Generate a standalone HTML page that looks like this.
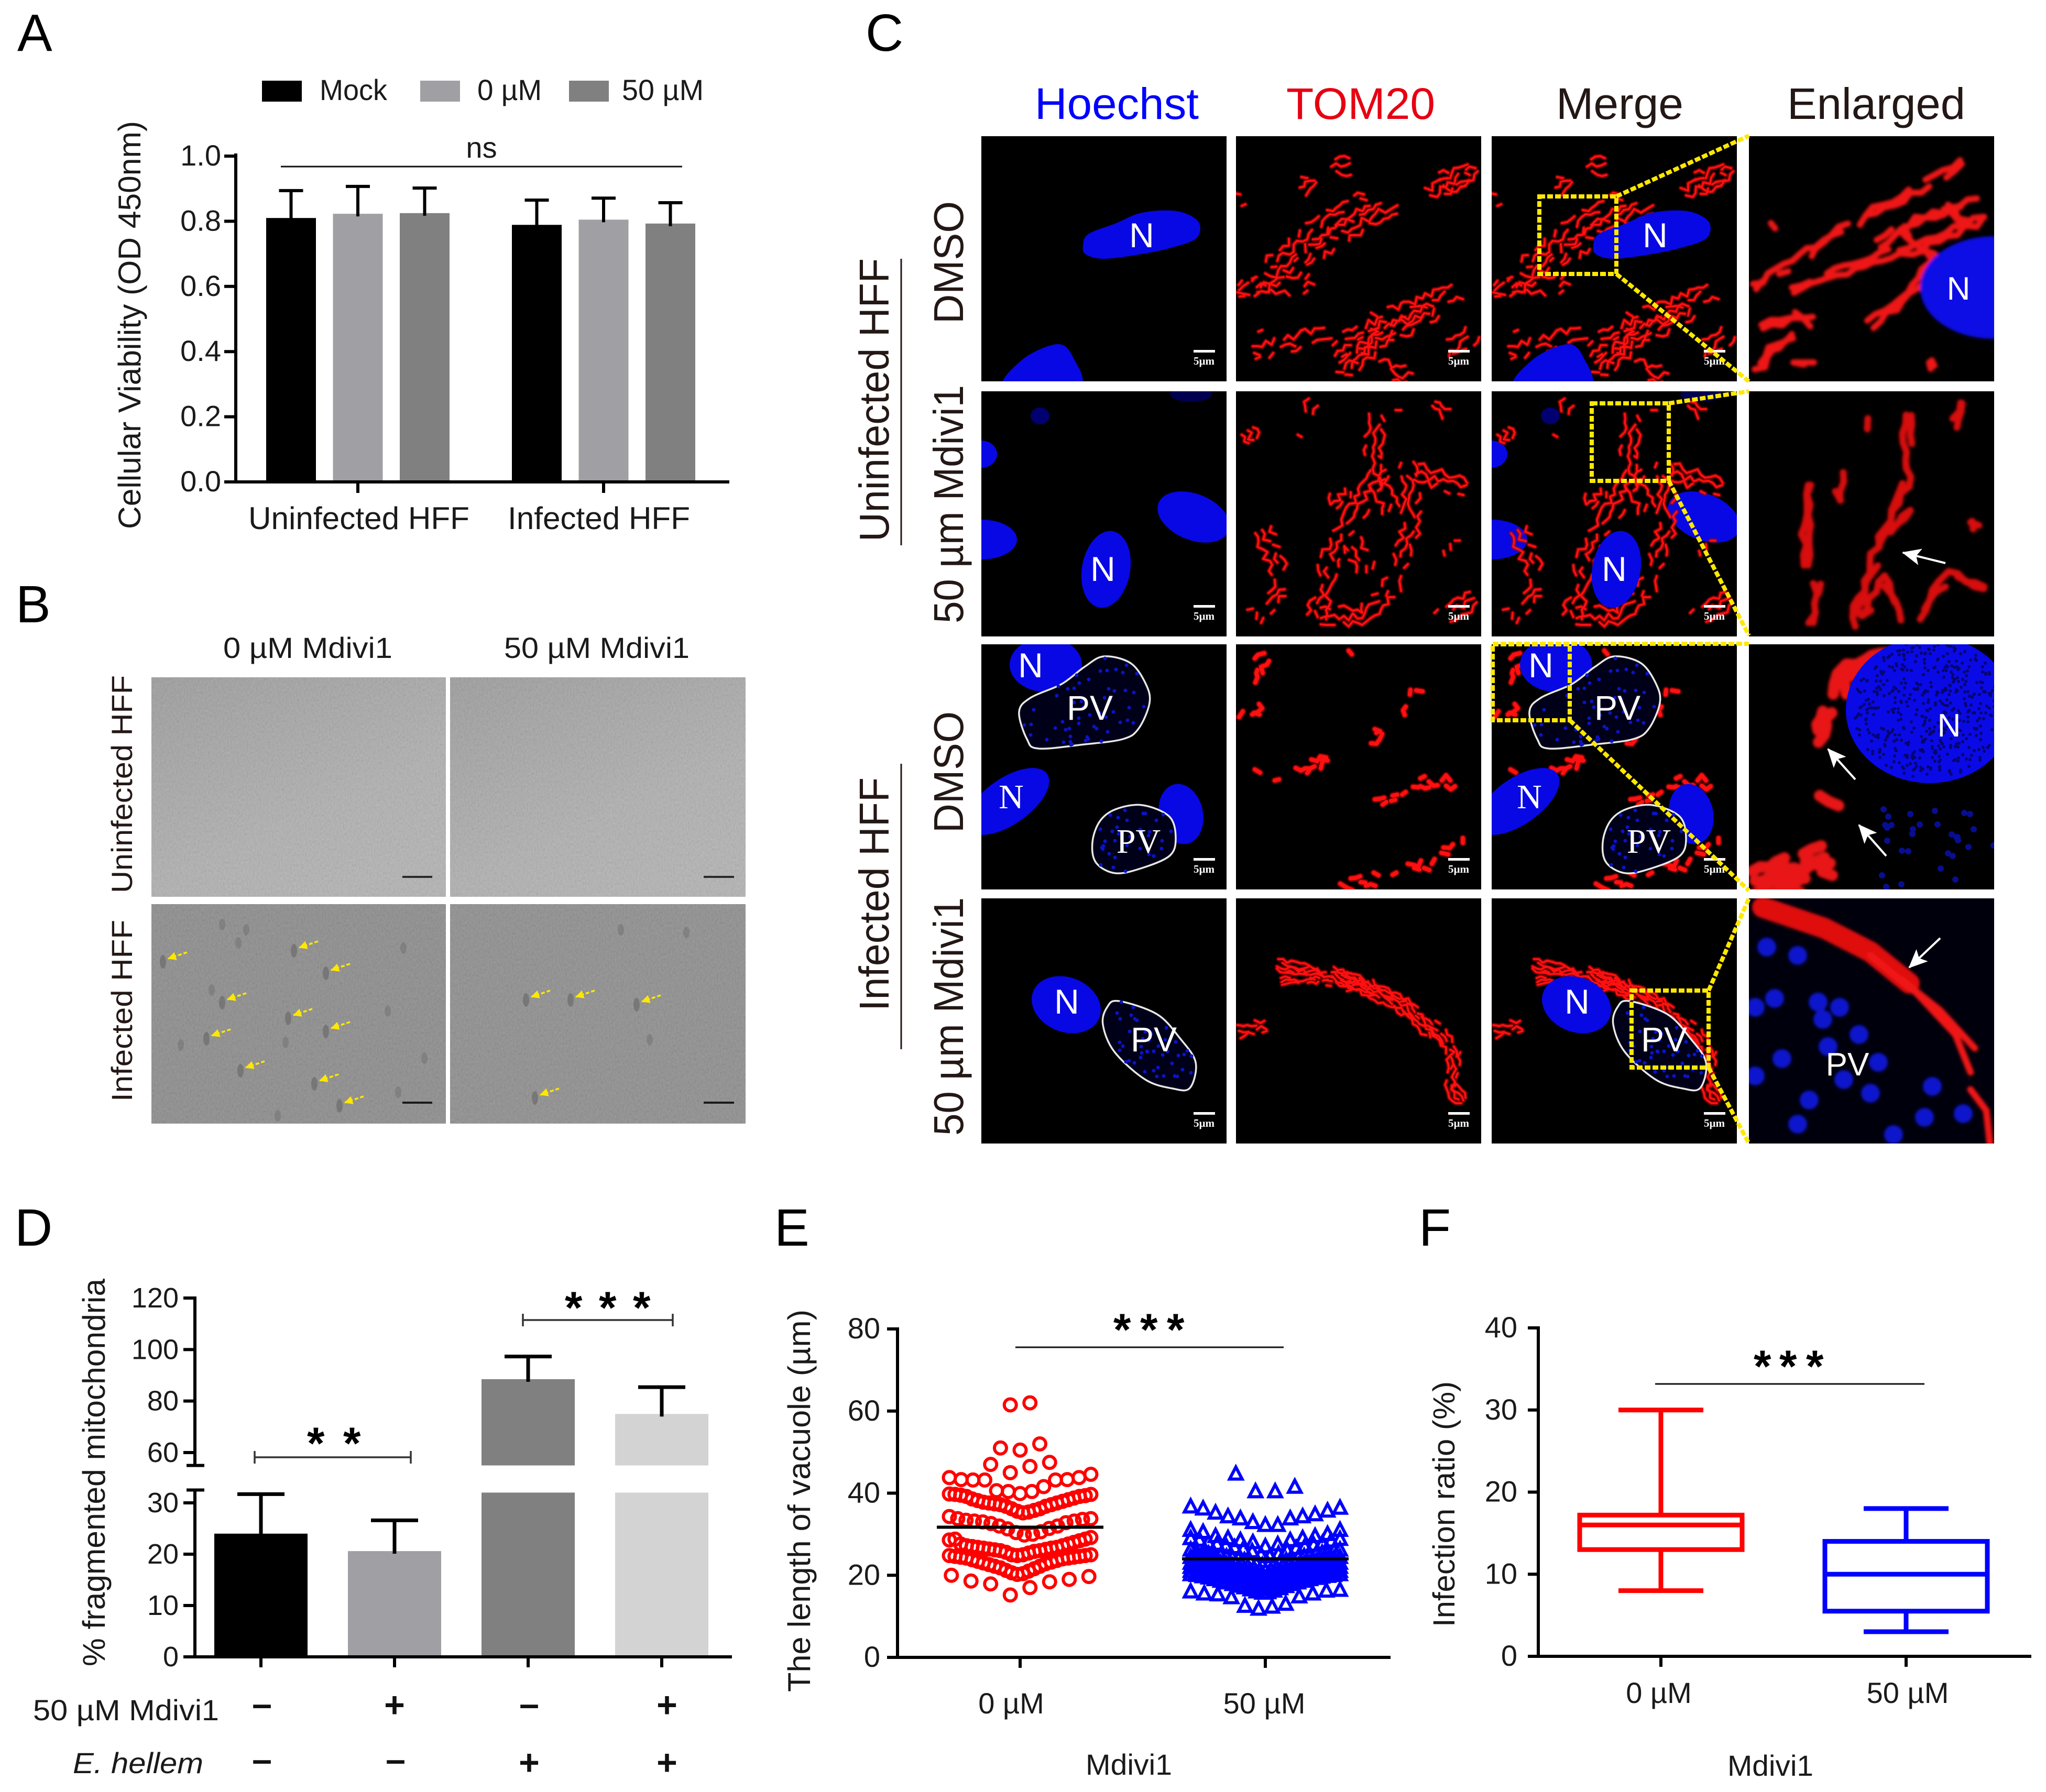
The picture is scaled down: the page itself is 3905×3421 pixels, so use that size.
<!DOCTYPE html>
<html lang="en">
<head>
<meta charset="utf-8">
<title>Mdivi1 multi-panel figure</title>
<style>
html,body{margin:0;padding:0;background:#fff}
svg#fig{display:block}
text{font-family:"Liberation Sans",Arial,sans-serif;fill:#111}
.letter{font-size:100px;fill:#000}
.lab{font-size:56px;fill:#1a1a1a}
.brown{font-size:80px;fill:#231815}
.head{font-size:84px}
.inpanel{font-size:56px;fill:#fff}
.serif{font-family:"Liberation Serif",serif}
.rb{fill:none;stroke:#b00000;stroke-width:9;opacity:.6;stroke-linecap:round;stroke-linejoin:round}
.rf{fill:none;stroke:#ff1010;stroke-width:4;stroke-linecap:round;stroke-linejoin:round}
.nuc{fill:#0808e4}
.pv{fill:#000018;stroke:#e8e8e8;stroke-width:3.5}
.dots{fill:none;stroke:#0a14c8;stroke-width:7;stroke-linecap:round}
.yb{fill:none;stroke:#ffe800;stroke-width:8;stroke-dasharray:11 4}
.wa{stroke:#fff;stroke-width:4;marker-end:url(#whead)}
.sbt{font-family:"Liberation Serif",serif;font-size:21px;font-weight:bold;fill:#fff;text-anchor:middle}
.stars{font-size:86px;font-weight:bold;fill:#000}
</style>
</head>
<body>
<svg id="fig" xmlns="http://www.w3.org/2000/svg" width="3905" height="3421" viewBox="0 0 3905 3421">
<defs>
  <linearGradient id="bfTop" x1="0" y1="0" x2=".6" y2="1"><stop offset="0" stop-color="#9a9a9a"/><stop offset=".7" stop-color="#adadad"/><stop offset="1" stop-color="#b0b0b0"/></linearGradient>
  <filter id="grain" x="0" y="0" width="1" height="1"><feTurbulence type="fractalNoise" baseFrequency=".35 .2" numOctaves="2" seed="4"/><feColorMatrix values="1.2 0 0 0 0 1.2 0 0 0 0 1.2 0 0 0 0 0 0 0 0 .12"/></filter>
  <filter id="blur2"><feGaussianBlur stdDeviation="3"/></filter>
  <marker id="whead" markerUnits="userSpaceOnUse" markerWidth="36" markerHeight="32" refX="34" refY="16" orient="auto"><polygon points="0,0 36,16 0,32 8,16" fill="#fff"/></marker>
  <marker id="yhead" markerUnits="userSpaceOnUse" markerWidth="16" markerHeight="16" refX="15" refY="8" orient="auto"><polygon points="0,0 16,8 0,16" fill="#ffe800"/></marker>

  <g id="r1-blue">
    <path id="n1a" class="nuc"/>
    <path id="n1b" class="nuc"/>
  </g>
  <g id="r1-red"><path id="m1b" class="rb"/><path id="m1f" class="rf"/></g>

  <g id="r2-blue">
    <ellipse cx="0" cy="120" rx="30" ry="26" class="nuc"/>
    <ellipse cx="0" cy="283" rx="68" ry="38" class="nuc"/>
    <ellipse cx="238" cy="340" rx="46" ry="74" transform="rotate(10 238 340)" class="nuc"/>
    <ellipse cx="405" cy="240" rx="72" ry="44" transform="rotate(22 405 240)" class="nuc"/>
    <ellipse cx="112" cy="47" rx="18" ry="16" fill="#000070"/>
    <ellipse cx="400" cy="6" rx="40" ry="14" fill="#000050"/>
  </g>
  <g id="r2-red"><path id="m2b" class="rb"/><path id="m2f" class="rf"/></g>

  <g id="r3-blue">
    <ellipse cx="123" cy="39" rx="69" ry="52" class="nuc"/>
    <ellipse cx="50" cy="300" rx="92" ry="44" transform="rotate(-35 50 300)" class="nuc"/>
    <ellipse cx="381" cy="324" rx="42" ry="58" transform="rotate(-12 381 324)" class="nuc"/>
    <path id="pv3a" class="pv"/>
    <path id="pv3b" class="pv"/>
    <path id="dots3" class="dots"/>
  </g>
  <g id="r3-red"><path id="m3b" class="rb" style="stroke-width:13"/><path id="m3f" class="rf" style="stroke-width:8"/></g>

  <g id="r4-blue">
    <ellipse cx="162" cy="203" rx="68" ry="52" transform="rotate(22 162 203)" class="nuc"/>
    <path id="pv4" class="pv"/>
    <path id="dots4" class="dots"/>
  </g>
  <g id="r4-red"><path id="m4b" class="rb"/><path id="m4f" class="rf"/></g>

  <g id="sb1"><rect x="405" y="408" width="41" height="5" fill="#fff"/><text class="sbt" x="425" y="436">5µm</text></g>
</defs>

<rect width="3905" height="3421" fill="#fff"/>

<!-- panel letters -->
<text class="letter" x="33" y="97">A</text>
<text class="letter" x="30" y="1188">B</text>
<text class="letter" x="1652" y="97">C</text>
<text class="letter" x="28" y="2378">D</text>
<text class="letter" x="1478" y="2378">E</text>
<text class="letter" x="2708" y="2378">F</text>

<!-- PANEL A -->
<g id="chartA">
  <rect x="500" y="154" width="76" height="40" fill="#000"/>
  <text class="lab" x="610" y="191" textLength="129" lengthAdjust="spacingAndGlyphs">Mock</text>
  <rect x="802" y="154" width="76" height="40" fill="#a0a0a4"/>
  <text class="lab" x="911" y="191" textLength="123" lengthAdjust="spacingAndGlyphs">0 µM</text>
  <rect x="1086" y="154" width="76" height="40" fill="#808080"/>
  <text class="lab" x="1187" y="191" textLength="156" lengthAdjust="spacingAndGlyphs">50 µM</text>
  <text class="lab" style="font-size:60px" transform="translate(268,1010) rotate(-90)" textLength="779" lengthAdjust="spacingAndGlyphs">Cellular Viability (OD 450nm)</text>
  <text class="lab" x="919" y="301" text-anchor="middle">ns</text>
  <line x1="536" x2="1302" y1="318" y2="318" stroke="#111" stroke-width="3"/>
  <text class="lab" style="font-size:60px" x="474" y="1010" textLength="422" lengthAdjust="spacingAndGlyphs">Uninfected HFF</text>
  <text class="lab" style="font-size:60px" x="969" y="1010" textLength="348" lengthAdjust="spacingAndGlyphs">Infected HFF</text>
</g>

<!-- PANEL B -->
<g>
  <text class="lab" x="426" y="1256" textLength="323" lengthAdjust="spacingAndGlyphs">0 µM Mdivi1</text>
  <text class="lab" x="962" y="1256" textLength="354" lengthAdjust="spacingAndGlyphs">50 µM Mdivi1</text>
  <text class="lab" style="fill:#231815" transform="translate(252,1705) rotate(-90)" textLength="416" lengthAdjust="spacingAndGlyphs">Uninfected HFF</text>
  <text class="lab" style="fill:#231815" transform="translate(252,2103) rotate(-90)" textLength="347" lengthAdjust="spacingAndGlyphs">Infected HFF</text>
  <rect x="289" y="1293" width="562" height="419" fill="url(#bfTop)"/>
  <rect x="859" y="1293" width="564" height="419" fill="url(#bfTop)"/>
  <rect x="289" y="1726" width="562" height="419" fill="#8a8a8a"/>
  <rect x="859" y="1726" width="564" height="419" fill="#8c8c8c"/>
  <rect x="289" y="1293" width="562" height="419" filter="url(#grain)"/>
  <rect x="859" y="1293" width="564" height="419" filter="url(#grain)"/>
  <rect x="289" y="1726" width="562" height="419" filter="url(#grain)"/>
  <rect x="859" y="1726" width="564" height="419" filter="url(#grain)"/>
  <g id="bfArrows"></g>
  <rect x="768" y="1672" width="57" height="4" fill="#2a2a2a"/>
  <rect x="1343" y="1672" width="58" height="4" fill="#2a2a2a"/>
  <rect x="768" y="2103" width="57" height="4" fill="#1a1a1a"/>
  <rect x="1343" y="2103" width="58" height="4" fill="#1a1a1a"/>
</g>

<!-- PANEL C -->
<g>
  <text class="head" style="fill:#0000ff" x="1975" y="227" textLength="313" lengthAdjust="spacingAndGlyphs">Hoechst</text>
  <text class="head" style="fill:#e60012" x="2455" y="227" textLength="284" lengthAdjust="spacingAndGlyphs">TOM20</text>
  <text class="head" style="fill:#231815" x="2970" y="227" textLength="243" lengthAdjust="spacingAndGlyphs">Merge</text>
  <text class="head" style="fill:#231815" x="3411" y="227" textLength="340" lengthAdjust="spacingAndGlyphs">Enlarged</text>

  <text class="brown" transform="translate(1696,1034) rotate(-90)" textLength="541" lengthAdjust="spacingAndGlyphs">Uninfected HFF</text>
  <line x1="1720" x2="1720" y1="494" y2="1041" stroke="#231815" stroke-width="3"/>
  <text class="brown" transform="translate(1838,618) rotate(-90)" textLength="234" lengthAdjust="spacingAndGlyphs">DMSO</text>
  <text class="brown" transform="translate(1838,1190) rotate(-90)" textLength="455" lengthAdjust="spacingAndGlyphs">50 µm Mdivi1</text>
  <text class="brown" transform="translate(1696,1930) rotate(-90)" textLength="446" lengthAdjust="spacingAndGlyphs">Infected HFF</text>
  <line x1="1720" x2="1720" y1="1458" y2="2003" stroke="#231815" stroke-width="3"/>
  <text class="brown" transform="translate(1838,1590) rotate(-90)" textLength="232" lengthAdjust="spacingAndGlyphs">DMSO</text>
  <text class="brown" transform="translate(1838,2168) rotate(-90)" textLength="455" lengthAdjust="spacingAndGlyphs">50 µm Mdivi1</text>

  <!-- row 1 -->
  <svg x="1873" y="260" width="468" height="468"><rect width="468" height="468" fill="#000"/><use href="#r1-blue"/><text class="inpanel" x="306" y="212" text-anchor="middle" style="font-size:66px">N</text><use href="#sb1"/></svg>
  <svg x="2359" y="260" width="468" height="468"><rect width="468" height="468" fill="#000"/><use href="#r1-red"/><use href="#sb1"/></svg>
  <svg x="2847" y="260" width="468" height="468"><rect width="468" height="468" fill="#000"/><use href="#r1-red"/><use href="#r1-blue"/><text class="inpanel" x="312" y="212" text-anchor="middle" style="font-size:66px">N</text><use href="#sb1"/></svg>
  <svg x="3338" y="260" width="468" height="468"><rect width="468" height="468" fill="#000"/><g filter="url(#blur2)"><path id="e1" fill="none" stroke="#ee1212" stroke-width="12" stroke-linecap="round" stroke-linejoin="round"/><ellipse cx="467" cy="289" rx="140" ry="98" fill="#0a0ae6"/></g><text class="inpanel" x="400" y="312" text-anchor="middle" style="font-size:62px">N</text></svg>

  <!-- row 2 -->
  <svg x="1873" y="747" width="468" height="468"><rect width="468" height="468" fill="#000"/><use href="#r2-blue"/><text class="inpanel" x="232" y="362" text-anchor="middle" style="font-size:66px">N</text><use href="#sb1"/></svg>
  <svg x="2359" y="747" width="468" height="468"><rect width="468" height="468" fill="#000"/><use href="#r2-red"/><use href="#sb1"/></svg>
  <svg x="2847" y="747" width="468" height="468"><rect width="468" height="468" fill="#000"/><use href="#r2-blue"/><use href="#r2-red"/><ellipse cx="238" cy="340" rx="46" ry="74" transform="rotate(10 238 340)" class="nuc"/><text class="inpanel" x="234" y="362" text-anchor="middle" style="font-size:66px">N</text><use href="#sb1"/></svg>
  <svg x="3338" y="747" width="468" height="468"><rect width="468" height="468" fill="#000"/><g filter="url(#blur2)"><path id="e2" fill="none" stroke="#d81010" stroke-width="13" stroke-linecap="round" stroke-linejoin="round"/></g><line x1="375" y1="328" x2="294" y2="308" class="wa"/></svg>

  <!-- row 3 -->
  <svg x="1873" y="1230" width="468" height="468"><rect width="468" height="468" fill="#000"/><use href="#r3-blue"/><text class="inpanel" x="94" y="63" text-anchor="middle" style="font-size:66px">N</text><text class="inpanel" x="207" y="144" text-anchor="middle" style="font-size:66px">PV</text><text class="inpanel serif" x="57" y="313" text-anchor="middle" style="font-size:66px">N</text><text class="inpanel serif" x="300" y="398" text-anchor="middle" style="font-size:66px">PV</text><use href="#sb1"/></svg>
  <svg x="2359" y="1230" width="468" height="468"><rect width="468" height="468" fill="#000"/><use href="#r3-red"/><use href="#sb1"/></svg>
  <svg x="2847" y="1230" width="468" height="468"><rect width="468" height="468" fill="#000"/><use href="#r3-red"/><use href="#r3-blue"/><text class="inpanel" x="94" y="63" text-anchor="middle" style="font-size:66px">N</text><text class="inpanel" x="240" y="144" text-anchor="middle" style="font-size:66px">PV</text><text class="inpanel serif" x="72" y="313" text-anchor="middle" style="font-size:66px">N</text><text class="inpanel serif" x="300" y="398" text-anchor="middle" style="font-size:66px">PV</text><use href="#sb1"/></svg>
  <svg x="3338" y="1230" width="468" height="468"><rect width="468" height="468" fill="#000"/><path id="e3dots" fill="none" stroke="#080e90" stroke-width="12" stroke-linecap="round"/><g filter="url(#blur2)"><path id="e3" fill="none" stroke="#e81212" stroke-width="22" stroke-linecap="round" stroke-linejoin="round"/></g><ellipse cx="345" cy="125" rx="160" ry="140" fill="#0a0ae6"/><path id="e3spk" fill="none" stroke="#05056e" stroke-width="6" stroke-linecap="round"/><text class="inpanel" x="382" y="176" text-anchor="middle" style="font-size:62px">N</text><line x1="203" y1="258" x2="151" y2="200" class="wa"/><line x1="262" y1="404" x2="210" y2="345" class="wa"/></svg>

  <!-- row 4 -->
  <svg x="1873" y="1715" width="468" height="468"><rect width="468" height="468" fill="#000"/><use href="#r4-blue"/><text class="inpanel" x="163" y="220" text-anchor="middle" style="font-size:66px">N</text><text class="inpanel" x="329" y="292" text-anchor="middle" style="font-size:66px">PV</text><use href="#sb1"/></svg>
  <svg x="2359" y="1715" width="468" height="468"><rect width="468" height="468" fill="#000"/><use href="#r4-red"/><use href="#sb1"/></svg>
  <svg x="2847" y="1715" width="468" height="468"><rect width="468" height="468" fill="#000"/><use href="#r4-red"/><use href="#r4-blue"/><text class="inpanel" x="163" y="220" text-anchor="middle" style="font-size:66px">N</text><text class="inpanel" x="329" y="292" text-anchor="middle" style="font-size:66px">PV</text><use href="#sb1"/></svg>
  <svg x="3338" y="1715" width="468" height="468"><rect width="468" height="468" fill="#00000c"/><g filter="url(#blur2)"><path id="e4dots" fill="none" stroke="#0a14cc" stroke-linecap="round" stroke-width="36"/><path id="e4a" fill="none" stroke="#e01010" stroke-width="40" stroke-linecap="round" stroke-linejoin="round"/><path id="e4b" fill="none" stroke="#f01414" stroke-width="13" stroke-linecap="round" stroke-linejoin="round"/></g><text class="inpanel" x="188" y="338" text-anchor="middle" style="font-size:62px">PV</text><line x1="365" y1="76" x2="306" y2="132" class="wa"/></svg>

  <!-- zoom boxes -->
  <rect x="2938" y="375" width="147" height="148" class="yb"/>
  <path d="M3085 375L3338 259M3085 523L3338 728" class="yb"/>
  <rect x="3038" y="770" width="147" height="148" class="yb"/>
  <path d="M3185 770L3338 747M3185 918L3338 1213" class="yb"/>
  <rect x="2849" y="1230" width="147" height="145" class="yb"/>
  <path d="M2849 1229L3338 1229M2996 1375L3338 1700" class="yb"/>
  <rect x="3114" y="1891" width="147" height="147" class="yb"/>
  <path d="M3261 1891L3338 1715M3261 2038L3338 2183" class="yb"/>
</g>

<!-- PANEL D -->
<g id="chartD">
  <text class="lab" style="font-size:60px" transform="translate(200,3181) rotate(-90)" textLength="740" lengthAdjust="spacingAndGlyphs">% fragmented mitochondria</text>
  <path d="M486 2770V2794M486 2782H784M784 2770V2794" fill="none" stroke="#333" stroke-width="3.5"/>
  <path d="M998 2508V2532M998 2520H1284M1284 2508V2532" fill="none" stroke="#333" stroke-width="3.5"/>
  <text x="586 655" y="2785" class="stars">**</text>
  <text x="1078 1143 1208" y="2526" class="stars">***</text>
  <text class="lab" x="63" y="3284" textLength="355" lengthAdjust="spacingAndGlyphs">50 µM Mdivi1</text>
  <text class="lab" style="font-style:italic" x="139" y="3385" textLength="249" lengthAdjust="spacingAndGlyphs">E. hellem</text>
</g>

<!-- PANEL E -->
<g id="chartE">
  <text class="lab" style="font-size:60px" transform="translate(1546,3230) rotate(-90)" textLength="730" lengthAdjust="spacingAndGlyphs">The length of vacuole (µm)</text>
  <text x="2125 2176 2227" y="2568" class="stars">***</text>
  <line x1="1938" x2="2450" y1="2572" y2="2572" stroke="#111" stroke-width="3"/>
  <text class="lab" x="2072" y="3388" textLength="165" lengthAdjust="spacingAndGlyphs">Mdivi1</text>
</g>

<!-- PANEL F -->
<g id="chartF">
  <text class="lab" style="font-size:58px" transform="translate(2776,3106) rotate(-90)" textLength="469" lengthAdjust="spacingAndGlyphs">Infection ratio (%)</text>
  <text x="3347 3396 3447" y="2638" class="stars">***</text>
  <line x1="3159" x2="3673" y1="2642" y2="2642" stroke="#111" stroke-width="3"/>
  <text class="lab" x="3297" y="3390" textLength="164" lengthAdjust="spacingAndGlyphs">Mdivi1</text>
</g>

<script>
/* ===== chart data ===== */
// Panel A
const aGroups = ['Uninfected HFF', 'Infected HFF'];
const aSeriesNames = ['mock', '0um', '50um'];
const aMock = [0.81, 0.789];
const a0uM = [0.823, 0.805];
const a50uM = [0.825, 0.793];
const aErrMock = [0.894, 0.865];
const aErr0uM = [0.907, 0.871];
const aErr50uM = [0.902, 0.857];
const aTicks = ['0.0', '0.2', '0.4', '0.6', '0.8', '1.0'];
// Panel D
const dCats = ['no-drug-uninfected', 'drug-uninfected', 'no-drug-infected', 'drug-infected'];
const dValues = [24, 20.6, 88.5, 75];
const dErrors = [31.7, 26.6, 97.3, 85.4];
const dLowerTicks = ['0', '10', '20', '30'];
const dUpperTicks = ['60', '80', '100', '120'];
const dRowMdivi = ['–', '+', '–', '+'];
const dRowHellem = ['–', '–', '+', '+'];
// Panel E
const eCats = ['0 µM', '50 µM'];
const eTicks = ['0', '20', '40', '60', '80'];
const eMedians = [31.7, 24];
const eCircleRows = [
  [61.5, 62],
  [51, 50.5, 52],
  [47, 45, 46.5, 47.5],
  [43.8, 43.3, 43.2, 43.2, 40.6, 40.4, 39.9, 40.4, 41.6, 43.2, 43.3, 43.8, 44.6],
  [39.8, 39.7, 39.5, 39.2, 38.6, 38.2, 37.8, 37.6, 37.4, 37.2, 36.8, 36.2, 35.6, 35.2, 35.4, 35.8, 36.2, 36.8, 37.2, 37.6, 38, 38.4, 38.8, 39.2, 39.4, 39.7],
  [34.3, 33.8, 33.4, 33.2, 33, 32.6, 32, 31.3, 30.4, 29.8, 30, 30.6, 31.4, 32, 32.8, 33.2, 33.6, 33.8],
  [28.6, 28.8, 27.6, 27.2, 27, 26.8, 26.6, 26.4, 26.2, 26, 25.6, 25, 24.8, 25, 25.4, 25.8, 26, 26.3, 26.6, 26.8, 27.2, 27.6, 28, 28.4, 28.8, 29.2],
  [24.8, 24.6, 24.4, 24.2, 23.8, 23.4, 23, 22.6, 22.2, 21.8, 21.2, 20.6, 20.2, 20.4, 21, 21.6, 22.2, 22.8, 23.2, 23.6, 24, 24.2, 24.4, 24.6, 24.8, 25],
  [20, 18.6, 17.9, 15.2, 17, 18.4, 19, 19.7]
];
const eTriangleRows = [
  [44.7, 40.4, 40.4, 41.5],
  [36.7, 36.2, 35.2, 34.3, 33.8, 32.9, 32.2, 32.2, 33.8, 34.3, 34.8, 35.7, 36.4],
  [31, 30.5, 29.5, 29, 28.5, 28, 27, 27.5, 28.5, 29, 29.5, 30, 31],
  [29, 28.6, 28, 27.6, 27.2, 26.8, 26.4, 25.8, 25, 24.6, 25.2, 26, 26.6, 27, 27.4, 27.8, 28.4, 28.8],
  [26.2, 25.8, 25.5, 25.2, 25, 24.8, 24.5, 24.2, 24, 23.6, 23.2, 22.8, 22.4, 22.4, 22.8, 23.2, 23.6, 24, 24.3, 24.6, 24.9, 25.2, 25.4, 25.6, 25.9, 26.2],
  [24.4, 24.2, 23.9, 23.7, 23.4, 23, 22.7, 22.3, 21.9, 21.5, 21, 20.6, 20.2, 20.3, 20.8, 21.2, 21.6, 22, 22.4, 22.8, 23.1, 23.4, 23.7, 23.9, 24.1, 24.4],
  [23, 22.7, 22.4, 22.2, 22, 21.6, 21.3, 21, 20.6, 20.2, 19.8, 19.4, 19, 19.2, 19.6, 20, 20.4, 20.8, 21.2, 21.5, 21.8, 22.1, 22.4, 22.6, 22.8, 23],
  [22, 21.8, 21.5, 21.2, 20.9, 20.6, 20.2, 19.8, 19.4, 19, 18.5, 18, 17.6, 17.8, 18.2, 18.8, 19.2, 19.6, 20, 20.4, 20.7, 21, 21.3, 21.5, 21.7, 22],
  [21, 20.8, 20.5, 20.2, 20, 19.8, 19.4, 19, 18.6, 18.2, 17.6, 17, 16.6, 16.8, 17.2, 17.8, 18.4, 18.8, 19.2, 19.5, 19.8, 20, 20.3, 20.5, 20.7, 21],
  [20.2, 20, 19.7, 19.4, 19, 18.6, 18.2, 17.8, 17.4, 17, 16.5, 16, 15.7, 15.8, 16.2, 16.8, 17.3, 17.8, 18.2, 18.6, 19, 19.3, 19.6, 19.8, 20, 20.2],
  [16, 15.5, 15.3, 14.6, 12.5, 11.8, 12.3, 13, 14.8, 15.5, 16.2, 16.4]
];
// Panel F
const fCats = ['0 µM', '50 µM'];
const fTicks = ['0', '10', '20', '30', '40'];
const fWhiskerLow = [8, 3];
const fQ1 = [13, 5.5];
const fMedian = [16, 10];
const fQ3 = [17.2, 14];
const fWhiskerHigh = [30, 18];

/* ===== helpers ===== */
const NS = 'http://www.w3.org/2000/svg';
function mk(parent, tag, attrs, txt) {
  const e = document.createElementNS(NS, tag);
  for (const k in attrs) e.setAttribute(k, attrs[k]);
  if (txt !== undefined) e.textContent = txt;
  parent.appendChild(e);
  return e;
}
const linear = (d0, d1, r0, r1) => v => r0 + (v - d0) * (r1 - r0) / (d1 - d0);
const $ = id => document.getElementById(id);
const AX = {stroke: '#000', 'stroke-width': 6};

/* ===== Panel A ===== */
(function () {
  const g = $('chartA');
  const y = linear(0, 1, 920, 298);
  const groupX = i => 683 + i * 469;
  const barX = (i, s) => groupX(i) + (s - 1) * 127.5;
  const colors = ['#000', '#a0a0a4', '#808080'];
  const vals = [aMock, a0uM, a50uM], errs = [aErrMock, aErr0uM, aErr50uM];
  aGroups.forEach((name, i) => {
    aSeriesNames.forEach((sn, s) => {
      const cx = barX(i, s);
      const bar = mk(g, 'rect', {x: cx - 47.5, y: y(vals[s][i]), width: 95, height: y(0) - y(vals[s][i]), fill: colors[s]});
      
      
      const er = mk(g, 'path', {d: `M${cx} ${y(vals[s][i]) + 5}V${y(errs[s][i])}M${cx - 23} ${y(errs[s][i])}H${cx + 23}`, fill: 'none', stroke: '#000', 'stroke-width': 6});
      
      
    });
    const t = mk(g, 'line', Object.assign({x1: groupX(i), x2: groupX(i), y1: y(0), y2: y(0) + 21}, AX));
    
    
  });
  const yAxis = mk(g, 'line', Object.assign({x1: 450, x2: 450, y1: y(1) - 5, y2: y(0) + 3}, AX));
  
  
  const xAxis = mk(g, 'line', Object.assign({x1: 447, x2: 1392, y1: y(0), y2: y(0)}, AX));
  
  
  aTicks.forEach(tk => {
    const yy = y(parseFloat(tk));
    const t = mk(g, 'line', Object.assign({x1: 428, x2: 450, y1: yy, y2: yy}, AX));
    
    
    const l = mk(g, 'text', {x: 422, y: yy + 18, 'text-anchor': 'end', class: 'lab'}, tk);
    
    
  });
})();

/* ===== Panel D ===== */
(function () {
  const g = $('chartD');
  const yL = linear(0, 30, 3163, 2869);
  const yU = linear(60, 120, 2773, 2478);
  const BREAK_LOW = 32, BREAK_HIGH = 55;
  const yAny = v => v <= BREAK_LOW + 0.5 ? yL(v) : yU(v);
  const xc = i => 498 + i * 255;
  const colors = ['#000', '#a0a0a4', '#808080', '#d3d3d3'];
  dCats.forEach((c, i) => {
    const cx = xc(i), v = dValues[i];
    const low = mk(g, 'rect', {x: cx - 89, y: yL(Math.min(v, BREAK_LOW)), width: 178, height: yL(0) - yL(Math.min(v, BREAK_LOW)), fill: colors[i]});
    
    
    if (v > BREAK_HIGH) {
      const up = mk(g, 'rect', {x: cx - 89, y: yU(v), width: 178, height: yU(BREAK_HIGH) - yU(v), fill: colors[i]});
      
      
    }
    const e = dErrors[i];
    const er = mk(g, 'path', {d: `M${cx} ${yAny(v) + 5}V${yAny(e)}M${cx - 45} ${yAny(e)}H${cx + 45}`, fill: 'none', stroke: '#000', 'stroke-width': 7});
    
    
    const t = mk(g, 'line', Object.assign({x1: cx, x2: cx, y1: yL(0), y2: yL(0) + 20}, AX));
    
    
    const s1 = mk(g, 'text', {x: cx + (dRowMdivi[i] === '+' ? (i === 3 ? 10 : 0) : 2), y: dRowMdivi[i] === '+' ? 3278 : 3276, 'text-anchor': 'middle', style: 'font-size:68px;font-weight:bold;fill:#111'}, dRowMdivi[i]);
    
    
    const s2 = mk(g, 'text', {x: cx + (i === 3 ? 10 : 2), y: dRowHellem[i] === '+' ? 3388 : 3382, 'text-anchor': 'middle', style: 'font-size:68px;font-weight:bold;fill:#111'}, dRowHellem[i]);
    
    
  });
  const axU = mk(g, 'line', Object.assign({x1: 372, x2: 372, y1: yU(120) - 3, y2: yU(BREAK_HIGH)}, AX));
  
  
  const axL = mk(g, 'line', Object.assign({x1: 372, x2: 372, y1: yL(32.5), y2: yL(0) + 3}, AX));
  
  
  const brk1 = mk(g, 'line', Object.assign({x1: 356, x2: 390, y1: yU(BREAK_HIGH), y2: yU(BREAK_HIGH)}, AX));
  
  
  const brk2 = mk(g, 'line', Object.assign({x1: 356, x2: 390, y1: yL(32.5), y2: yL(32.5)}, AX));
  
  
  const xa = mk(g, 'line', Object.assign({x1: 350, x2: 1397, y1: yL(0), y2: yL(0)}, AX));
  
  
  const ticks = (arr, sc) => arr.forEach(tk => {
    const yy = sc(parseFloat(tk));
    const t = mk(g, 'line', Object.assign({x1: 350, x2: 372, y1: yy, y2: yy}, AX));
    
    
    const l = mk(g, 'text', {x: 341, y: yy + 18, 'text-anchor': 'end', class: 'lab', style: 'font-size:54px'}, tk);
    
    
  });
  ticks(dLowerTicks, yL);
  ticks(dUpperTicks, yU);
})();

/* ===== Panel E ===== */
(function () {
  const g = $('chartE');
  const y = linear(0, 80, 3164, 2537);
  const xc = i => 1947 + i * 468;
  const swarmX = (c, j, n, W) => {
    const step = Math.min(37.5, n > 1 ? W / (n - 1) : 0);
    return xc(c) + (j - (n - 1) / 2) * step;
  };
  eCircleRows.forEach(row => row.forEach((v, j) => {
    const c = mk(g, 'circle', {cx: swarmX(0, j, row.length, 270), cy: y(v), r: 11.5, fill: 'none', stroke: '#ff0000', 'stroke-width': 6});
    
    
  }));
  eTriangleRows.forEach(row => row.forEach((v, j) => {
    const cx = swarmX(1, j, row.length, 285), cy = y(v);
    const t = mk(g, 'path', {d: `M${cx} ${cy - 13}L${cx + 12} ${cy + 10}H${cx - 12}Z`, fill: 'none', stroke: '#0000ff', 'stroke-width': 6});
    
    
  }));
  eMedians.forEach((m, i) => {
    const l = mk(g, 'line', {x1: xc(i) - 159, x2: xc(i) + 159, y1: y(m), y2: y(m), stroke: '#000', 'stroke-width': 6});
    
    
  });
  const ya = mk(g, 'line', Object.assign({x1: 1713, x2: 1713, y1: y(80) - 3, y2: y(0) + 3}, AX));
  
  
  const xa = mk(g, 'line', Object.assign({x1: 1693, x2: 2654, y1: y(0), y2: y(0)}, AX));
  
  
  eTicks.forEach(tk => {
    const yy = y(parseFloat(tk));
    const t = mk(g, 'line', Object.assign({x1: 1693, x2: 1713, y1: yy, y2: yy}, AX));
    
    
    const l = mk(g, 'text', {x: 1680, y: yy + 18, 'text-anchor': 'end', class: 'lab'}, tk);
    
    
  });
  eCats.forEach((c, i) => {
    const t = mk(g, 'line', Object.assign({x1: xc(i), x2: xc(i), y1: y(0), y2: y(0) + 20}, AX));
    
    
    const l = mk(g, 'text', {x: xc(i) - 17 + i * 15, y: 3271, 'text-anchor': 'middle', class: 'lab'}, c);
    
    
  });
})();

/* ===== Panel F ===== */
(function () {
  const g = $('chartF');
  const y = linear(0, 40, 3162, 2535);
  const xc = i => 3170 + i * 468;
  const col = ['#ff0000', '#0000ff'];
  fCats.forEach((c, i) => {
    const x = xc(i);
    const w = mk(g, 'path', {d: `M${x} ${y(fQ3[i])}V${y(fWhiskerHigh[i])}M${x - 81} ${y(fWhiskerHigh[i])}H${x + 81}M${x} ${y(fQ1[i])}V${y(fWhiskerLow[i])}M${x - 81} ${y(fWhiskerLow[i])}H${x + 81}`, fill: 'none', stroke: col[i], 'stroke-width': 9});
    
    
    const b = mk(g, 'rect', {x: x - 155, y: y(fQ3[i]), width: 310, height: y(fQ1[i]) - y(fQ3[i]), fill: 'none', stroke: col[i], 'stroke-width': 9});
    
    
    const m = mk(g, 'line', {x1: x - 155, x2: x + 155, y1: y(fMedian[i]), y2: y(fMedian[i]), stroke: col[i], 'stroke-width': 9});
    
    
    const t = mk(g, 'line', Object.assign({x1: x, x2: x, y1: y(0), y2: y(0) + 20}, AX));
    
    
    const l = mk(g, 'text', {x: x - 4 + i * 7, y: 3251, 'text-anchor': 'middle', class: 'lab'}, c);
    
    
  });
  const ya = mk(g, 'line', Object.assign({x1: 2936, x2: 2936, y1: y(40) - 3, y2: y(0) + 3}, AX));
  
  
  const xa = mk(g, 'line', Object.assign({x1: 2916, x2: 3877, y1: y(0), y2: y(0)}, AX));
  
  
  fTicks.forEach(tk => {
    const yy = y(parseFloat(tk));
    const t = mk(g, 'line', Object.assign({x1: 2916, x2: 2936, y1: yy, y2: yy}, AX));
    
    
    const l = mk(g, 'text', {x: 2896, y: yy + 18, 'text-anchor': 'end', class: 'lab'}, tk);
    
    
  });
})();

/* ===== micrograph artwork (not chart data) ===== */
(function () {
  let seed = 12345;
  const R = () => { seed = (seed * 1664525 + 1013904223) >>> 0; return seed / 4294967296; };
  const smooth = pts => {
    const n = pts.length; let d = `M${pts[0][0]} ${pts[0][1]}`;
    for (let i = 0; i < n; i++) {
      const p0 = pts[(i - 1 + n) % n], p1 = pts[i], p2 = pts[(i + 1) % n], p3 = pts[(i + 2) % n];
      d += `C${(p1[0] + (p2[0] - p0[0]) / 6).toFixed(1)} ${(p1[1] + (p2[1] - p0[1]) / 6).toFixed(1)} ${(p2[0] - (p3[0] - p1[0]) / 6).toFixed(1)} ${(p2[1] - (p3[1] - p1[1]) / 6).toFixed(1)} ${p2[0]} ${p2[1]}`;
    }
    return d + 'Z';
  };
  const inPoly = (x, y, p) => { let c = false; for (let i = 0, j = p.length - 1; i < p.length; j = i++) { if ((p[i][1] > y) !== (p[j][1] > y) && x < (p[j][0] - p[i][0]) * (y - p[i][1]) / (p[j][1] - p[i][1]) + p[i][0]) c = !c; } return c; };
  const dots = (poly, n) => {
    const xs = poly.map(p => p[0]), ys = poly.map(p => p[1]);
    const x0 = Math.min(...xs), x1 = Math.max(...xs), y0 = Math.min(...ys), y1 = Math.max(...ys);
    let d = '', c = 0, guard = 0;
    while (c < n && guard++ < 5000) {
      const x = x0 + R() * (x1 - x0), y = y0 + R() * (y1 - y0);
      if (inPoly(x, y, poly)) { d += `M${x.toFixed(0)} ${y.toFixed(0)}h.01`; c++; }
    }
    return d;
  };
  const strands = (guides, ox, oy, sy, o) => {
    let d = '';
    guides.forEach(g => {
      const pts = g.map(p => [(p[0] - ox) * 1.47, (p[1] - oy) * sy]);
      for (let k = 0; k < o.n; k++) {
        const off = (k - (o.n - 1) / 2) * o.sp;
        let pen = false;
        for (let i = 1; i < pts.length; i++) {
          const a = pts[i - 1], b = pts[i], L = Math.hypot(b[0] - a[0], b[1] - a[1]);
          const steps = Math.max(1, Math.ceil(L / o.step));
          const nx = -(b[1] - a[1]) / L, ny = (b[0] - a[0]) / L;
          for (let j = 0; j < steps; j++) {
            const t = j / steps;
            const w = off + (R() - .5) * o.jit;
            const x = a[0] + (b[0] - a[0]) * t + nx * w, y = a[1] + (b[1] - a[1]) * t + ny * w;
            if (R() < o.gap) { pen = false; continue; }
            d += (pen ? 'L' : 'M') + x.toFixed(0) + ' ' + y.toFixed(0);
            pen = true;
          }
        }
      }
    });
    return d;
  };
  const setRed = (b, f, d) => { $(b).setAttribute('d', d); $(f).setAttribute('d', d); };

  // nuclei & vacuoles
  $('n1a').setAttribute('d', smooth([[194, 210], [204, 187], [255, 167], [307, 146], [373, 143], [414, 163], [410, 195], [358, 214], [300, 226], [234, 234], [200, 226]]));
  $('n1b').setAttribute('d', smooth([[45, 480], [79, 426], [145, 397], [175, 422], [185, 480]]));
  const pv3a = [[234, 23], [285, 36], [314, 76], [321, 112], [300, 161], [270, 181], [197, 191], [109, 199], [87, 181], [72, 129], [94, 102], [153, 76], [197, 43]];
  const pv3b = [[307, 307], [359, 329], [371, 371], [359, 404], [307, 427], [256, 437], [219, 417], [212, 378], [226, 338], [256, 315]];
  const pv4 = [[262, 196], [335, 221], [379, 267], [409, 313], [398, 362], [365, 363], [313, 346], [254, 293], [232, 241], [240, 208]];
  $('pv3a').setAttribute('d', smooth(pv3a));
  $('pv3b').setAttribute('d', smooth(pv3b));
  $('pv4').setAttribute('d', smooth(pv4));
  $('dots3').setAttribute('d', dots(pv3a, 55) + dots(pv3b, 35));
  $('dots4').setAttribute('d', dots(pv4, 45));

  // row mitochondria (crop-space guides mapped to panel space)
  const g1 = [[[520, 720], [600, 640], [660, 560], [730, 490]], [[560, 650], [640, 530], [690, 480]], [[540, 860], [650, 810], [740, 760], [810, 700]], [[640, 925], [700, 830], [780, 750]], [[650, 880], [720, 790]], [[770, 480], [830, 400]], [[780, 440], [825, 440]], [[600, 460], [620, 430]], [[640, 405], [670, 400]], [[520, 700], [590, 690]], [[790, 860], [830, 800]], [[540, 790], [550, 780]], [[600, 700], [620, 680]], [[700, 900], [750, 920]], [[520, 490], [530, 480]]];
  setRed('m1b', 'm1f', strands(g1, 516, 332, .7844, {n: 3, sp: 15, step: 9, jit: 15, gap: .22}));
  const g2 = [[[620, 1500], [640, 1350], [680, 1220], [710, 1130]], [[740, 1125], [745, 1280], [720, 1420], [680, 1500], [620, 1500]], [[700, 1010], [690, 1120], [720, 1250]], [[750, 1150], [820, 1190]], [[530, 1050], [540, 1080]], [[590, 1080], [600, 1090]], [[550, 1290], [575, 1400]], [[790, 1320], [800, 1340]], [[780, 1510], [830, 1450]], [[610, 970], [600, 1030]], [[660, 1300], [690, 1400]], [[640, 1240], [660, 1180]], [[770, 990], [790, 1020]], [[720, 1010], [730, 1020]], [[540, 1500], [580, 1420]]];
  setRed('m2b', 'm2f', strands(g2, 516, 952, .7844, {n: 3, sp: 14, step: 9, jit: 14, gap: .2}));
  const g3 = [[[560, 50], [540, 130], [550, 230], [516, 260]], [[650, 60], [670, 85]], [[750, 100], [760, 150], [740, 190], [735, 250], [700, 310], [650, 360], [600, 410], [530, 430]], [[800, 445], [750, 450], [700, 510], [660, 565]], [[810, 550], [810, 620], [770, 680], [720, 720], [660, 740]], [[645, 715], [675, 755]], [[520, 260], [555, 250]]];
  setRed('m3b', 'm3f', strands(g3, 516, 45, .657, {n: 3, sp: 8, step: 9, jit: 12, gap: .58}));
  const g4 = [[[570, 975], [620, 1000], [680, 1030], [730, 1085], [770, 1150], [800, 1230], [795, 1340], [815, 1380]], [[575, 1020], [625, 1010], [690, 1050], [740, 1110], [775, 1190]], [[640, 1000], [700, 1060]], [[520, 1170], [560, 1150]]];
  setRed('m4b', 'm4f', strands(g4, 516, 784, .657, {n: 4, sp: 7, step: 9, jit: 9, gap: .22}));

  // enlarged panels
  const e1 = [[[1190, 700], [1240, 640], [1300, 560], [1380, 480], [1470, 390]], [[1350, 590], [1400, 540], [1490, 480]], [[1380, 620], [1450, 560], [1500, 520]], [[1200, 800], [1260, 760]], [[1240, 710], [1330, 640], [1400, 600]], [[1340, 790], [1400, 700], [1420, 620]], [[1190, 900], [1220, 840], [1250, 820]], [[1240, 880], [1280, 880]], [[1335, 880], [1345, 895]], [[1415, 885], [1425, 905]], [[1380, 560], [1430, 640]], [[1440, 500], [1470, 560]], [[1215, 540], [1222, 570]], [[1240, 770], [1275, 790]]];
  $('e1').setAttribute('d', strands(e1, 1182, 332, .7844, {n: 2, sp: 8, step: 20, jit: 14, gap: .08}));
  const e2 = [[[1390, 1010], [1385, 1100], [1385, 1180], [1350, 1330], [1320, 1500], [1330, 1540]], [[1260, 1180], [1255, 1300], [1255, 1400]], [[1300, 1150], [1300, 1240]], [[1340, 1020], [1335, 1070]], [[1455, 980], [1450, 1060]], [[1330, 1500], [1360, 1400], [1385, 1530]], [[1400, 1500], [1440, 1400], [1500, 1430]], [[1270, 1420], [1265, 1540]], [[1390, 1240], [1350, 1330]], [[1470, 1270], [1480, 1300]]];
  $('e2').setAttribute('d', strands(e2, 1182, 952, .7844, {n: 2, sp: 8, step: 20, jit: 14, gap: .1}));
  const e3 = [[[1390, 60], [1300, 130], [1300, 220]], [[1240, 150], [1250, 170]], [[1280, 240], [1275, 300], [1260, 340]], [[1280, 470], [1310, 530]], [[1340, 460], [1345, 480]], [[1190, 720], [1230, 680], [1290, 640]], [[1230, 720], [1300, 690]], [[1190, 750], [1260, 750]]];
  $('e3').setAttribute('d', strands(e3, 1182, 45, .657, {n: 2, sp: 17, step: 20, jit: 12, gap: .08}));
  let sp = '', sd = '';
  for (let i = 0; i < 480; i++) { const a = R() * 6.283, r = Math.sqrt(R()) * 132; sp += `M${(345 + Math.cos(a) * r * 1.1).toFixed(0)} ${(125 + Math.sin(a) * r).toFixed(0)}h.01`; }
  $('e3spk').setAttribute('d', sp);
  for (let i = 0; i < 30; i++) { const x = 250 + R() * 218, y = 310 + R() * 158; sd += `M${x.toFixed(0)} ${y.toFixed(0)}h.01`; }
  $('e3dots').setAttribute('d', sd);
  const toE4 = p => ((p[0] - 1182) * 1.47).toFixed(0) + ' ' + ((p[1] - 784) * .657).toFixed(0);
  const spores = [[1215, 1075], [1272, 1085], [1245, 950], [1205, 925], [1278, 1135], [1325, 1180], [1225, 1250], [1305, 1310], [1340, 1350], [1410, 1420], [1460, 1410], [1245, 1440], [1370, 1470], [1300, 1100], [1190, 1100], [1420, 1330], [1285, 1215], [1260, 1370], [1190, 1300], [1350, 1260]];
  $('e4dots').setAttribute('d', spores.map(p => `M${toE4(p)}h.01`).join(''));
  $('e4a').setAttribute('d', 'M' + [[1200, 810], [1280, 870], [1340, 940], [1390, 1030]].map(toE4).join('L'));
  $('e4b').setAttribute('d', 'M' + [[1340, 950], [1400, 1060], [1450, 1180], [1470, 1290]].map(toE4).join('L') + 'M' + [[1380, 1020], [1430, 1110], [1475, 1220]].map(toE4).join('L') + 'M' + [[1470, 1340], [1490, 1400], [1495, 1496]].map(toE4).join('L'));

  // bright-field arrows and dark infected cells
  const tips = [[321, 1830], [571, 1809], [632, 1852], [434, 1908], [560, 1938], [632, 1963], [404, 1977], [469, 2038], [610, 2063], [658, 2105], [1014, 1903], [1099, 1903], [1225, 1912], [1031, 2090]];
  const extra = [[424, 1765], [455, 1800], [470, 1775], [404, 1890], [545, 1990], [770, 1810], [740, 1930], [810, 2020], [760, 2085], [530, 2130], [1185, 1775], [1310, 1780], [1240, 1985], [345, 1995]];
  const ga = $('bfArrows');
  extra.forEach(p => {
    const b = mk(ga, 'ellipse', {cx: p[0], cy: p[1], rx: 6, ry: 11, fill: '#666', opacity: .4});
    
    
  });
  tips.forEach(p => {
    const b = mk(ga, 'ellipse', {cx: p[0] - 10, cy: p[1] + 6, rx: 6, ry: 13, fill: '#5c5c5c', opacity: .5});
    
    
    const a = mk(ga, 'line', {x1: p[0] + 36, y1: p[1] - 12, x2: p[0], y2: p[1], stroke: '#ffe800', 'stroke-width': 3.5, 'stroke-dasharray': '7 4', 'marker-end': 'url(#yhead)'});
    
    
  });
})();
</script>
</svg>
</body>
</html>
